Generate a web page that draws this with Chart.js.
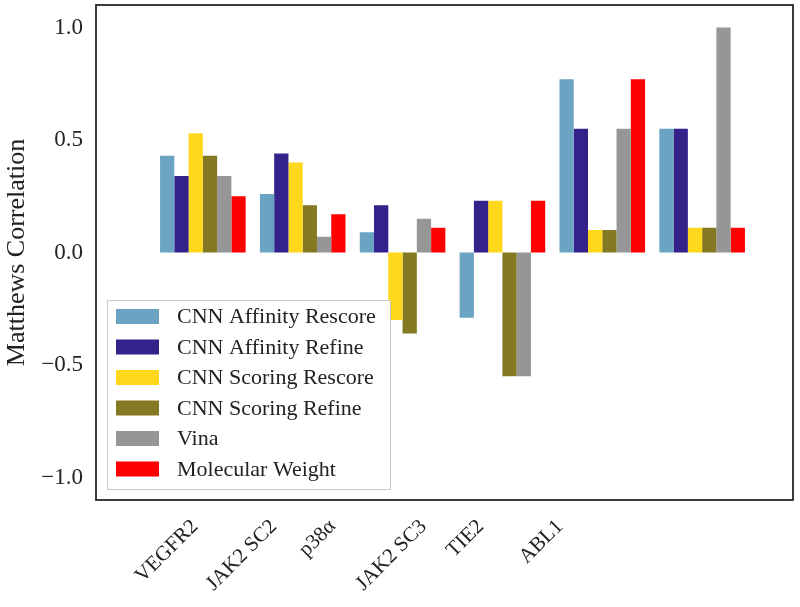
<!DOCTYPE html>
<html>
<head>
<meta charset="utf-8">
<script src="https://cdn.jsdelivr.net/npm/chart.js@4"></script>
<style>
  html, body { margin:0; padding:0; background:#fff; }
  #wrap { width:800px; height:607px; }
</style>
</head>
<body>
<div id="wrap"><canvas id="ch"></canvas></div>
<script>
/* Matthews correlation per target, grouped bars */
const targets = ['VEGFR2', 'JAK2 SC2', 'p38\u03b1', 'JAK2 SC3', 'TIE2', 'ABL1'];
// where the tick labels sit on the x axis (in bar-group units)
const labelPos = [-0.36, 0.39, 1.15, 1.89, 2.63, 3.39];
const yTicks = [-1.0, -0.5, 0.0, 0.5, 1.0];

const seriesNames = ['CNN Affinity Rescore', 'CNN Affinity Refine', 'CNN Scoring Rescore',
                     'CNN Scoring Refine', 'Vina', 'Molecular Weight'];
const affRescore = [0.43, 0.26, 0.09, -0.29, 0.77, 0.55];
const affRefine  = [0.34, 0.44, 0.21, 0.23, 0.55, 0.55];
const scoRescore = [0.53, 0.40, -0.30, 0.23, 0.10, 0.11];
const scoRefine  = [0.43, 0.21, -0.36, -0.55, 0.10, 0.11];
const vina       = [0.34, 0.07, 0.15, -0.55, 0.55, 1.00];
const molWeight  = [0.25, 0.17, 0.11, 0.23, 0.77, 0.11];
const colors = ['#6aa4c2', '#33228a', '#ffd81c', '#857822', '#969696', '#ff0000'];

const serif = '"Liberation Serif", "DejaVu Serif", serif';
const series = [affRescore, affRefine, scoRescore, scoRefine, vina, molWeight];

const datasets = series.map((vals, k) => ({
  label: seriesNames[k],
  data: vals.map((v, i) => ({x: i, y: v})),
  backgroundColor: colors[k],
  borderWidth: 0,
  categoryPercentage: 6/7,
  barPercentage: 1.0
}));

// frame + rotated x labels + legend box inside the plot
const decor = {
  id: 'decor',
  afterDraw(chart){
    const ctx = chart.ctx, a = chart.chartArea, xs = chart.scales.x;
    ctx.save();
    // legend
    const lx = a.left + 11, ly = a.bottom - 200, lw = 283, lh = 189;
    ctx.fillStyle = 'rgba(255,255,255,0.85)';
    ctx.fillRect(lx, ly, lw, lh);
    ctx.strokeStyle = '#c8c8c8';
    ctx.lineWidth = 1;
    ctx.strokeRect(lx + 0.5, ly + 0.5, lw, lh);
    ctx.font = '22px ' + serif;
    ctx.textBaseline = 'middle';
    ctx.textAlign = 'left';
    chart.data.datasets.forEach((d, k) => {
      const cy = ly + 16.5 + k * 30.5;
      ctx.fillStyle = d.backgroundColor;
      ctx.fillRect(lx + 9, cy - 7.5, 43, 15);
      ctx.fillStyle = '#222';
      ctx.fillText(d.label, lx + 70, cy + 1);
    });
    // x labels, centred on their positions, rotated 45deg
    ctx.font = '21px ' + serif;
    ctx.fillStyle = '#222';
    ctx.textAlign = 'center';
    ctx.textBaseline = 'middle';
    targets.forEach((t, i) => {
      const w = ctx.measureText(t).width, h = 15;
      const half = (w + h) * Math.SQRT1_2 / 2;
      const px = xs.getPixelForValue(labelPos[i]);
      const py = a.bottom + 18 + half;
      ctx.save();
      ctx.translate(px, py);
      ctx.rotate(-Math.PI / 4);
      ctx.fillText(t, 0, 0);
      ctx.restore();
    });
    // frame
    ctx.strokeStyle = '#262626';
    ctx.lineWidth = 1.8;
    ctx.strokeRect(a.left, a.top, a.right - a.left, a.bottom - a.top);
    ctx.restore();
  }
};

new Chart(document.getElementById('ch'), {
  type: 'bar',
  data: { datasets },
  options: {
    responsive: true,
    maintainAspectRatio: false,
    animation: false,
    layout: { autoPadding: false, padding: { left: 0, top: 5, right: 7, bottom: 0 } },
    plugins: { legend: { display: false }, tooltip: { enabled: false } },
    scales: {
      x: {
        type: 'linear',
        offset: false,
        min: -1.07, max: 5.91,
        grid: { display: false, drawTicks: false, offset: false },
        border: { display: false },
        ticks: { display: false },
        afterBuildTicks: s => { s.ticks = targets.map((_, i) => ({value: i})); },
        afterFit: s => { s.height = 107; s.paddingLeft = 0; s.paddingRight = 0; }
      },
      y: {
        min: -1.1, max: 1.1,
        grid: { display: false, drawTicks: false },
        border: { display: false },
        afterBuildTicks: s => { s.ticks = yTicks.map(v => ({value: v})); },
        afterFit: s => { s.width = 96; s.paddingTop = 0; s.paddingBottom = 0; },
        ticks: {
          padding: 13,
          color: '#222',
          font: { family: serif, size: 23 },
          callback: v => v.toFixed(1).replace('-', '\u2212')
        },
        title: {
          display: true,
          text: 'Matthews Correlation',
          color: '#222',
          font: { family: serif, size: 26 },
          padding: { top: 2, bottom: 0 }
        }
      }
    }
  },
  plugins: [decor]
});
</script>
</body>
</html>
